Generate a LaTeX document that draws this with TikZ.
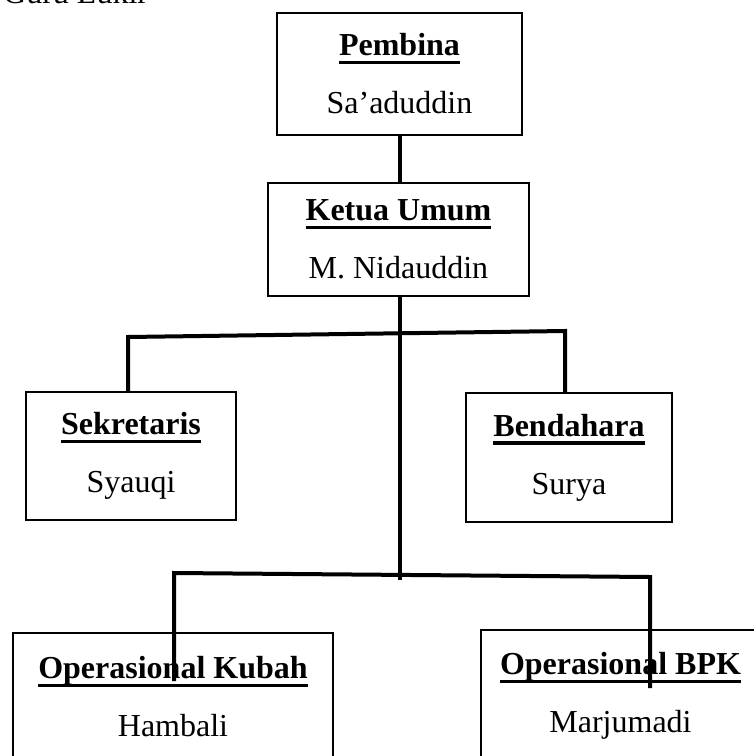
\documentclass[tikz,border=0pt]{standalone}
\usepackage{fontspec}
\setmainfont{Liberation Serif}
\usetikzlibrary{positioning}

\newsavebox{\headbox}
\newcommand{\heading}[1]{\sbox{\headbox}{\textbf{#1}}\rlap{\rule[-8.5pt]{\wd\headbox}{3.3pt}}\usebox{\headbox}}

\begin{document}
\begin{tikzpicture}[x=1pt,y=-1pt,
    box/.style={draw, line width=2.4pt, align=center, inner sep=0pt,
                font=\fontsize{32}{58}\selectfont},
    link/.style={line width=4pt}]
	  \clip (0,0) rectangle (754,756);
	  \useasboundingbox (0,0) rectangle (754,756);

	  % caption cut off at the top
	  \node[anchor=base west, inner sep=0pt, font=\fontsize{32}{36}\selectfont] (caption) at (3,3) {Guru Lukir};

	  % the boxes
	  \node[box, minimum width=245pt, minimum height=122pt] (pembina) at (399.5,74) {\heading{Pembina}\\ Sa’aduddin};
	  \node[box, minimum width=261pt, minimum height=113pt] (ketua) at (398.5,239.5) {\heading{Ketua Umum}\\ M. Nidauddin};
	  \node[box, minimum width=210pt, minimum height=128pt] (sekretaris) at (131,456) {\heading{Sekretaris}\\ Syauqi};
	  \node[box, minimum width=206pt, minimum height=129pt] (bendahara) at (569,457.5) {\heading{Bendahara}\\ Surya};
	  \node[box, minimum width=320pt, minimum height=128pt] (kubah) at (173,697) {\heading{Operasional Kubah}\\ Hambali};
	  \node[box, minimum width=279pt, minimum height=132pt] (bpk) at (620.5,696) {\heading{Operasional BPK}\\ Marjumadi};

	  % points of the connectors
	  \coordinate (barL) at (128,337);
	  \coordinate (barR) at (565,331);
	  \coordinate (spine) at (400,580);
	  \coordinate (lowL) at (174,573);
	  \coordinate (lowR) at (650,577);
	  \coordinate (kubahEnd) at (174,681);
	  \coordinate (bpkEnd) at (650,688);

	  % connectors
	  \draw[link] (pembina.south) -- (pembina.south |- ketua.north);
	  \draw[link] (ketua.south -| spine) -- (spine);
	  \draw[link] (barL |- sekretaris.north) -- (barL) -- (barR) -- (barR |- bendahara.north);
	  \draw[link] (kubahEnd) -- (lowL) -- (lowR) -- (bpkEnd);
	
	\end{tikzpicture}
\end{document}
